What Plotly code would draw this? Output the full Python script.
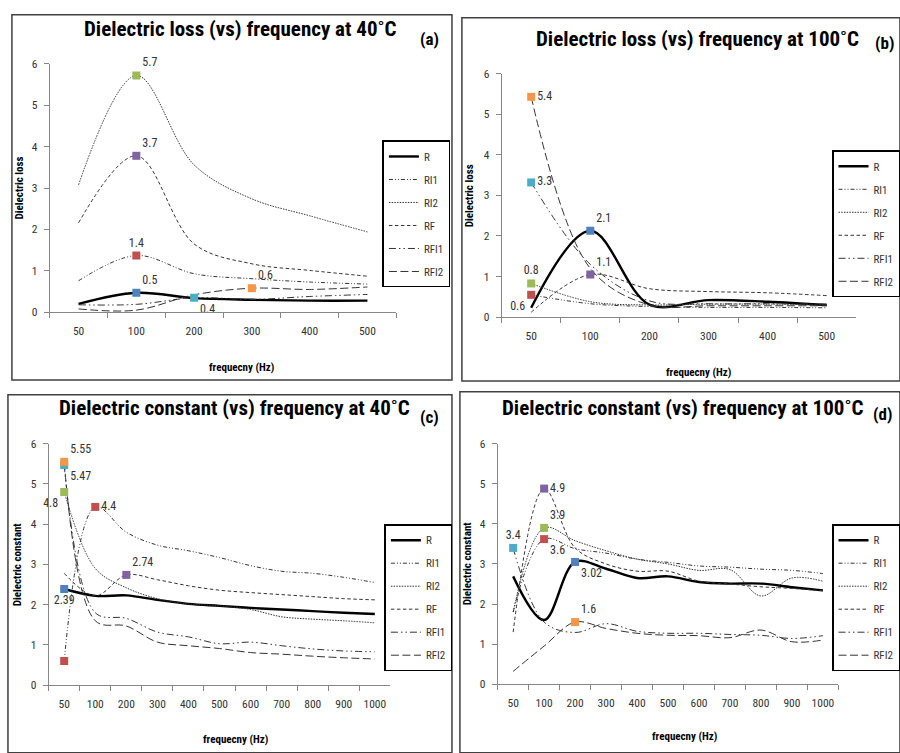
import plotly.graph_objects as go

# ---------------- data ----------------
series_names = ["R", "RI1", "RI2", "RF", "RFI1", "RFI2"]

cats_loss = ["50", "100", "200", "300", "400", "500"]
cats_const = ["50", "100", "200", "300", "400", "500", "600", "700", "800", "900", "1000"]

# (a) Dielectric loss at 40 C
a_R    = [0.20, 0.47, 0.34, 0.30, 0.28, 0.28]
a_RI1  = [0.76, 1.37, 0.93, 0.81, 0.73, 0.68]
a_RI2  = [3.08, 5.72, 3.56, 2.74, 2.33, 1.94]
a_RF   = [2.16, 3.78, 1.65, 1.17, 1.01, 0.87]
a_RFI1 = [0.18, 0.19, 0.35, 0.31, 0.38, 0.43]
a_RFI2 = [0.08, 0.05, 0.42, 0.58, 0.55, 0.61]

# (b) Dielectric loss at 100 C
b_R    = [0.23, 2.13, 0.31, 0.42, 0.38, 0.30]
b_RI1  = [0.55, 0.33, 0.26, 0.24, 0.24, 0.23]
b_RI2  = [0.83, 0.38, 0.30, 0.32, 0.32, 0.30]
b_RF   = [0.12, 1.05, 0.70, 0.63, 0.60, 0.53]
b_RFI1 = [3.32, 1.30, 0.40, 0.33, 0.33, 0.32]
b_RFI2 = [5.43, 1.20, 0.30, 0.28, 0.28, 0.28]

# (c) Dielectric constant at 40 C
c_R    = [2.39, 2.22, 2.23, 2.12, 2.02, 1.97, 1.92, 1.88, 1.84, 1.80, 1.77]
c_RI1  = [0.60, 4.43, 3.80, 3.48, 3.34, 3.17, 2.97, 2.83, 2.78, 2.68, 2.55]
c_RI2  = [4.80, 2.90, 2.42, 2.15, 2.02, 1.97, 1.88, 1.70, 1.64, 1.60, 1.55]
c_RF   = [2.78, 2.22, 2.74, 2.62, 2.47, 2.36, 2.30, 2.25, 2.20, 2.15, 2.12]
c_RFI1 = [5.47, 1.80, 1.66, 1.32, 1.20, 1.03, 1.07, 0.98, 0.90, 0.85, 0.83]
c_RFI2 = [5.55, 1.60, 1.47, 1.07, 0.98, 0.91, 0.81, 0.77, 0.72, 0.68, 0.65]

# (d) Dielectric constant at 100 C
d_R    = [2.69, 1.60, 3.05, 2.88, 2.65, 2.69, 2.55, 2.51, 2.51, 2.42, 2.34]
d_RI1  = [1.80, 3.62, 3.38, 3.27, 3.12, 3.04, 2.95, 2.92, 2.87, 2.84, 2.76]
d_RI2  = [1.80, 3.90, 3.58, 3.33, 3.12, 3.00, 2.84, 2.86, 2.20, 2.65, 2.57]
d_RF   = [1.30, 4.88, 3.40, 3.00, 2.82, 2.82, 2.57, 2.50, 2.43, 2.39, 2.33]
d_RFI1 = [3.40, 1.55, 1.29, 1.51, 1.32, 1.27, 1.27, 1.24, 1.22, 1.14, 1.21]
d_RFI2 = [0.32, 0.95, 1.55, 1.39, 1.27, 1.22, 1.21, 1.16, 1.35, 1.06, 1.10]

# highlighted points: (series, category, label)
a_marks = [("R", "100", "0.5"), ("RI1", "100", "1.4"), ("RI2", "100", "5.7"),
           ("RF", "100", "3.7"), ("RFI1", "200", "0.4"), ("RFI2", "300", "0.6")]
b_marks = [("R", "100", "2.1"), ("RI1", "50", "0.6"), ("RI2", "50", "0.8"),
           ("RF", "100", "1.1"), ("RFI1", "50", "3.3"), ("RFI2", "50", "5.4")]
c_marks = [("R", "50", "2.39"), ("RI1", "50", ""), ("RI1", "100", "4.4"),
           ("RI2", "50", "4.8"), ("RF", "200", "2.74"), ("RFI1", "50", "5.47"),
           ("RFI2", "50", "5.55")]
d_marks = [("R", "200", "3.02"), ("RI1", "100", "3.6"), ("RI2", "100", "3.9"),
           ("RF", "100", "4.9"), ("RFI1", "50", "3.4"), ("RFI2", "200", "1.6")]

titles = ["Dielectric loss (vs) frequency at 40˚C", "Dielectric loss (vs) frequency at 100˚C",
          "Dielectric constant (vs) frequency at 40˚C", "Dielectric constant (vs) frequency at 100˚C"]
tags = ["(a)", "(b)", "(c)", "(d)"]
ytitles = ["Dielectric loss", "Dielectric loss", "Dielectric constant", "Dielectric constant"]
xtitle = "frequecny (Hz)"

# ---------------- styles ----------------
W, H = 900, 753
FONT = "Liberation Sans Narrow, Arial Narrow, Roboto Condensed, Roboto, sans-serif"
line_styles = {
    "R":    dict(color="#000000", width=2.4, dash="solid"),
    "RI1":  dict(color="#333333", width=1, dash="4px,2px,1px,2px,1px,2px"),
    "RI2":  dict(color="#333333", width=1, dash="1.5px,1.2px"),
    "RF":   dict(color="#333333", width=1, dash="3.5px,2.5px"),
    "RFI1": dict(color="#333333", width=1, dash="7px,3px,1.5px,3px,1.5px,3px"),
    "RFI2": dict(color="#333333", width=1, dash="8px,3.5px"),
}
mark_colors = {"R": "#4F81BD", "RI1": "#C0504D", "RI2": "#9BBB59",
               "RF": "#8064A2", "RFI1": "#4BACC6", "RFI2": "#F79646"}
text_pos = {
    "a": ["top right", "top center", "top right", "top right", "bottom right", "top right"],
    "b": ["top right", "bottom left", "top center", "top right", "middle right", "middle right"],
    "c": ["bottom center", "middle right", "middle right", "bottom left", "top right",
          "bottom right", "top right"],
    "d": ["bottom right", "bottom right", "top right", "middle right", "top center", "top right"],
}

panels = [
    dict(key="a", cats=cats_loss, data=[a_R, a_RI1, a_RI2, a_RF, a_RFI1, a_RFI2], marks=a_marks,
         px=(50, 399), py=(58, 311), box=(12, 8, 455, 380), title=(242, 22), tag=(432, 33),
         ytit=(20, 184), xtit=(243, 367), leg=(385, 136)),
    dict(key="b", cats=cats_loss, data=[b_R, b_RI1, b_RI2, b_RF, b_RFI1, b_RFI2], marks=b_marks,
         px=(505, 862), py=(68, 316), box=(465, 11, 906, 381), title=(702, 33), tag=(890, 37),
         ytit=(473, 192), xtit=(703, 372), leg=(838, 146)),
    dict(key="c", cats=cats_const, data=[c_R, c_RI1, c_RI2, c_RF, c_RFI1, c_RFI2], marks=c_marks,
         px=(49, 393), py=(445, 691), box=(8, 395, 455, 760), title=(236, 409), tag=(432, 418),
         ytit=(18, 568), xtit=(237, 746), leg=(387, 527)),
    dict(key="d", cats=cats_const, data=[d_R, d_RI1, d_RI2, d_RF, d_RFI1, d_RFI2], marks=d_marks,
         px=(501, 844), py=(445, 690), box=(463, 392, 906, 760), title=(687, 409), tag=(888, 415),
         ytit=(471, 567), xtit=(689, 743), leg=(838, 527)),
]

fig = go.Figure()
shapes, annotations = [], []
layout_axes = {}
for i, p in enumerate(panels):
    n = i + 1
    xa = "x" if n == 1 else f"x{n}"
    ya = "y" if n == 1 else f"y{n}"
    legname = "legend" if n == 1 else f"legend{n}"
    for s, vals in zip(series_names, p["data"]):
        fig.add_trace(go.Scatter(
            x=p["cats"], y=vals, mode="lines", name=s,
            line=dict(shape="spline", smoothing=1.0, **line_styles[s]),
            xaxis=xa, yaxis=ya, legend=legname, legendgroup=f"{p['key']}{s}",
            hoverinfo="skip"))
    for (s, c, lab), tp in zip(p["marks"], text_pos[p["key"]]):
        vals = p["data"][series_names.index(s)]
        yv = vals[p["cats"].index(c)]
        fig.add_trace(go.Scatter(
            x=[c], y=[yv], mode="markers+text", text=[lab], textposition=tp,
            textfont=dict(family=FONT, size=12, color="#333333"),
            marker=dict(symbol="square", size=8, color=mark_colors[s]),
            cliponaxis=False,
            xaxis=xa, yaxis=ya, showlegend=False, hoverinfo="skip"))

    x0, x1 = p["px"]
    yt, yb = p["py"]
    layout_axes["xaxis" if n == 1 else f"xaxis{n}"] = dict(
        domain=[x0 / W, x1 / W], anchor=ya, type="category", categoryorder="array",
        categoryarray=p["cats"], range=[-0.5, len(p["cats"]) - 0.5],
        showline=True, linecolor="#868686", linewidth=1, ticks="outside", ticklen=5,
        tickcolor="#868686", tickson="boundaries", showgrid=False, zeroline=False,
        tickangle=0,
        tickfont=dict(family=FONT, size=11.5, color="#333333"), ticklabelstandoff=8)
    layout_axes["yaxis" if n == 1 else f"yaxis{n}"] = dict(
        domain=[1 - yb / H, 1 - yt / H], anchor=xa, range=[0, 6], dtick=1,
        showline=True, linecolor="#868686", linewidth=1, ticks="outside", ticklen=5,
        tickcolor="#868686", showgrid=False, zeroline=False,
        tickfont=dict(family=FONT, size=11.5, color="#333333"), ticklabelstandoff=4)
    layout_axes[legname] = dict(
        x=p["leg"][0] / W, y=1 - p["leg"][1] / H, xanchor="left", yanchor="top",
        bordercolor="#000000", borderwidth=1.5, bgcolor="white",
        font=dict(family=FONT, size=11, color="#333333"), tracegroupgap=4,
        itemwidth=30)

    bx0, by0, bx1, by1 = p["box"]
    shapes.append(dict(type="rect", xref="paper", yref="paper",
                       x0=bx0 / W, x1=bx1 / W, y0=1 - by1 / H, y1=1 - by0 / H,
                       line=dict(color="#404040", width=1.5), layer="below"))
    annotations.append(dict(text=f"<b>{titles[i]}</b>", x=p["title"][0] / W, y=1 - p["title"][1] / H,
                            xref="paper", yref="paper", showarrow=False, xanchor="center", yanchor="middle",
                            font=dict(family=FONT, size=21, color="#000000")))
    annotations.append(dict(text=f"<b>{tags[i]}</b>", x=p["tag"][0] / W, y=1 - p["tag"][1] / H,
                            xref="paper", yref="paper", showarrow=False, xanchor="center", yanchor="middle",
                            font=dict(family=FONT, size=17, color="#000000")))
    annotations.append(dict(text=f"<b>{ytitles[i]}</b>", x=p["ytit"][0] / W, y=1 - p["ytit"][1] / H,
                            xref="paper", yref="paper", showarrow=False, textangle=-90,
                            xanchor="center", yanchor="middle",
                            font=dict(family=FONT, size=11, color="#000000")))
    annotations.append(dict(text=f"<b>{xtitle}</b>", x=p["xtit"][0] / W, y=1 - p["xtit"][1] / H,
                            xref="paper", yref="paper", showarrow=False,
                            xanchor="center", yanchor="middle",
                            font=dict(family=FONT, size=11, color="#000000")))

fig.update_layout(width=W, height=H, margin=dict(l=0, r=0, t=0, b=0),
                  paper_bgcolor="white", plot_bgcolor="white",
                  shapes=shapes, annotations=annotations, **layout_axes)
fig.write_html("out.html", config={"displayModeBar": False},
               post_script="document.body.style.margin='0';document.body.style.overflow='hidden';")
